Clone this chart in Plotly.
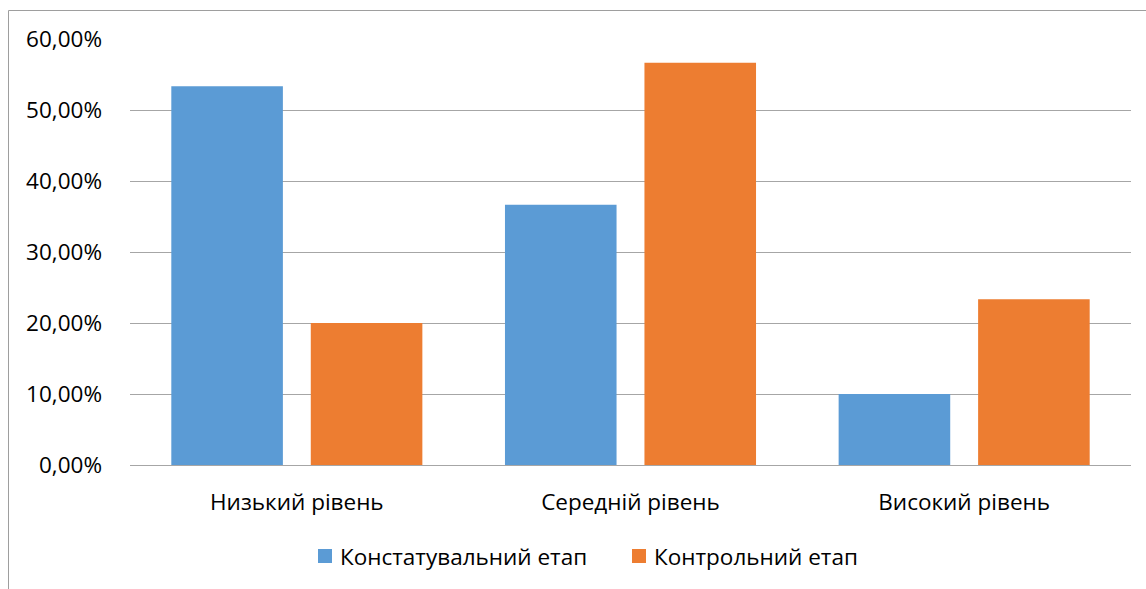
import plotly.graph_objects as go

categories = ["Низький рівень", "Середній рівень", "Високий рівень"]
series_names = ["Констатувальний етап", "Контрольний етап"]
constat_values = [0.5333, 0.3667, 0.1000]
control_values = [0.2000, 0.5667, 0.2333]
y_ticks = [0.0, 0.1, 0.2, 0.3, 0.4, 0.5, 0.6]

BLUE = "#5B9BD5"
ORANGE = "#ED7D31"
GRID = "#A6A6A6"
FONT = "Open Sans"
FSIZE = 22.5

fig = go.Figure()
fig.add_trace(go.Bar(x=categories, y=constat_values, name=series_names[0],
                     marker=dict(color=BLUE, line=dict(width=0))))
fig.add_trace(go.Bar(x=categories, y=control_values, name=series_names[1],
                     marker=dict(color=ORANGE, line=dict(width=0))))

W, H = 1146, 589
L, R, T, B = 130, 15, 39, 124
pw, ph = W - L - R, H - T - B

def px_x(p):
    return (p - L) / pw

def px_y(p):
    return (H - B - p) / ph

# thin frame around the chart area (top and left edges)
frame = dict(color="#9E9E9E", width=1)
fig.add_shape(type="line", xref="paper", yref="paper",
              x0=px_x(8.5), x1=px_x(W + 5), y0=px_y(10.5), y1=px_y(10.5), line=frame)
fig.add_shape(type="line", xref="paper", yref="paper",
              x0=px_x(8.5), x1=px_x(8.5), y0=px_y(10.5), y1=px_y(H + 5), line=frame)

# legend drawn as swatches + labels below the axis
legend_items = [(series_names[0], BLUE, 318), (series_names[1], ORANGE, 632)]
for name, color, x0 in legend_items:
    fig.add_shape(type="rect", xref="paper", yref="paper",
                  x0=px_x(x0), x1=px_x(x0 + 14), y0=px_y(563), y1=px_y(549),
                  fillcolor=color, line=dict(width=0))
    fig.add_annotation(xref="paper", yref="paper", x=px_x(x0 + 20), y=px_y(556),
                       xanchor="left", yanchor="middle", text=name, showarrow=False,
                       font=dict(family=FONT, size=FSIZE, color="#000000"))

fig.update_layout(
    width=W, height=H,
    margin=dict(l=L, r=R, t=T, b=B, pad=0),
    paper_bgcolor="white", plot_bgcolor="white",
    barmode="group", bargap=0.164, bargroupgap=0.2,
    separators=", ",
    font=dict(family=FONT, size=FSIZE, color="#000000"),
    showlegend=False,
    xaxis=dict(showgrid=False, showline=True, linecolor=GRID, linewidth=1,
               ticks="", tickfont=dict(family=FONT, size=FSIZE), ticklabelstandoff=17,
               zeroline=False),
    yaxis=dict(range=[0, 0.6], tickvals=y_ticks, tickformat=".2%",
               showgrid=True, gridcolor=GRID, gridwidth=1,
               zeroline=False, showline=False, ticks="",
               tickfont=dict(family=FONT, size=FSIZE), ticklabelstandoff=27),
)

fig.write_html("out.html")
